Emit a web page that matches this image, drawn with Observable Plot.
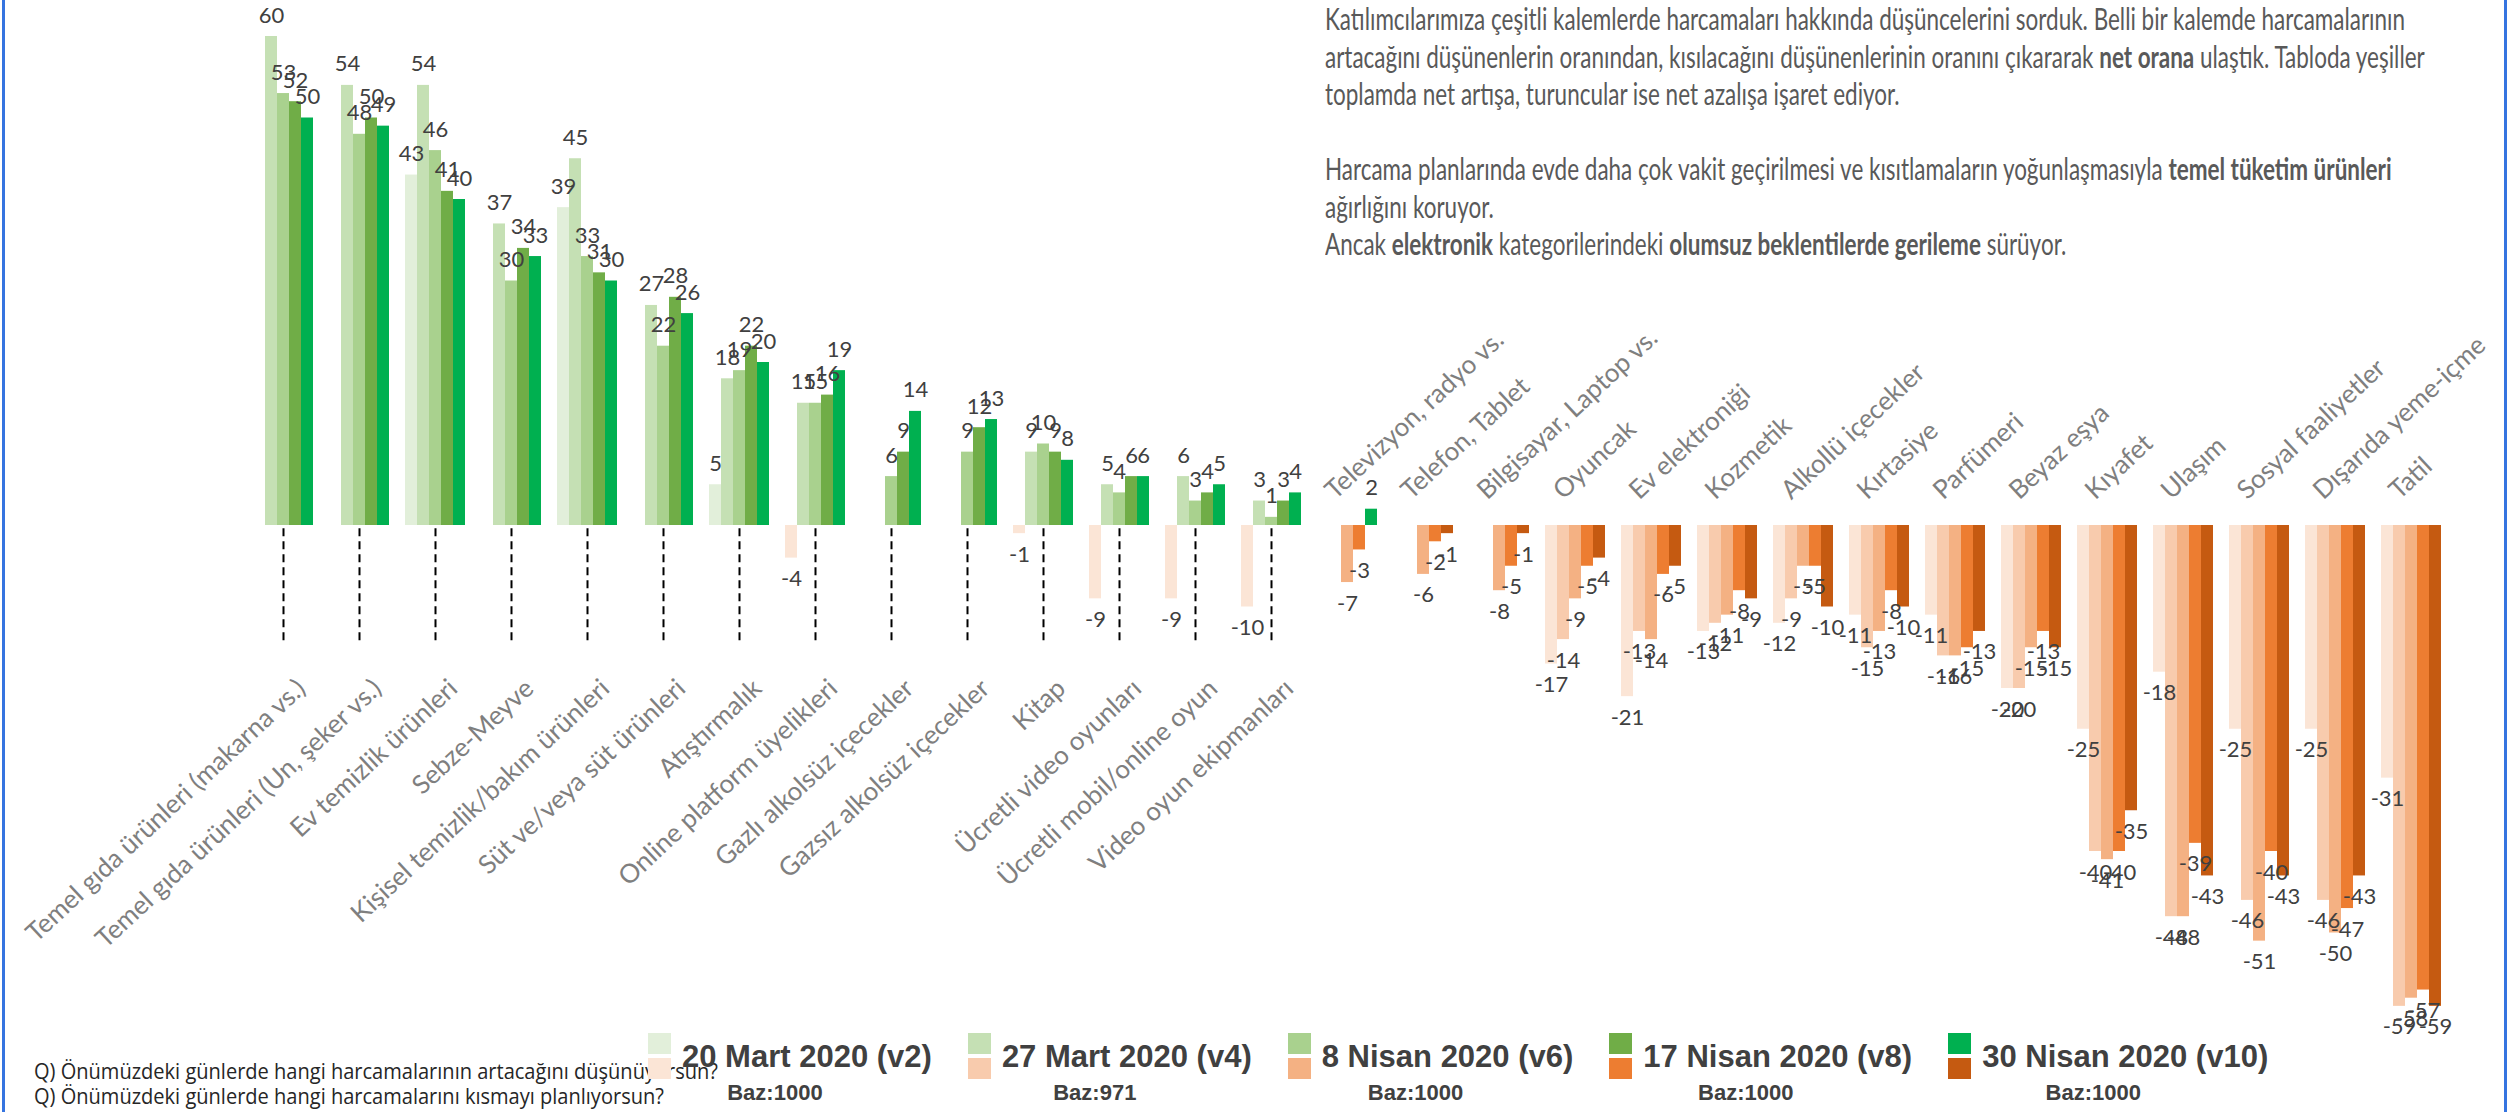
<!DOCTYPE html>
<html>
<head>
<meta charset="utf-8">
<script src="https://cdn.jsdelivr.net/npm/d3@7"></script>
<script src="https://cdn.jsdelivr.net/npm/@observablehq/plot@0.6"></script>
<style>
html, body { margin: 0; padding: 0; background: #fff; }
#page { position: relative; width: 2509px; height: 1112px; overflow: hidden; background: #fff; }
#chart { position: absolute; left: 0; top: 0; }
#title { position: absolute; left: 1325px; top: 0; font-family: Lato, sans-serif; color: #595959; line-height: 37.5px; white-space: nowrap; font-size: 30px; transform-origin: 0 0; }
#title b { font-weight: 700; }
#title .gap { height: 37.5px; }
#questions { position: absolute; left: 34px; top: 1058px; font-family: "Open Sans", sans-serif; color: #262626; line-height: 25px; white-space: nowrap; font-size: 22px; transform-origin: 0 0; }
#legend { position: absolute; left: 648px; top: 1033px; display: flex; gap: 36px; }
.item { display: flex; flex-direction: column; align-items: center; }
.row { display: flex; align-items: center; gap: 11px; }
.sw { display: flex; flex-direction: column; gap: 4px; }
.sw span { display: block; width: 23px; height: 21px; }
.lab { font-family: "Liberation Sans", Arial, sans-serif; font-weight: 700; font-size: 31px; color: #404040; line-height: 1; }
.baz { font-family: "Liberation Sans", Arial, sans-serif; font-weight: 700; font-size: 22px; color: #404040; line-height: 1.15; margin-top: 1px; transform: translateX(-15px); }
.edge { position: absolute; top: 0; width: 3px; height: 1112px; background: #3574E0; }
</style>
</head>
<body>
<div id="page">
  <div id="chart"></div>
  <div id="questions"></div>
  <div id="legend"></div>
  <div id="title"></div>
  <div class="edge" style="left:2px"></div>
  <div class="edge" style="left:2504px"></div>
</div>
<script>
// ---------- data ----------
const leftCategories = [
  "Temel gıda ürünleri (makarna vs.)",
  "Temel gıda ürünleri (Un, şeker vs.)",
  "Ev temizlik ürünleri",
  "Sebze-Meyve",
  "Kişisel temizlik/bakım ürünleri",
  "Süt ve/veya süt ürünleri",
  "Atıştırmalık",
  "Online platform üyelikleri",
  "Gazlı alkolsüz içecekler",
  "Gazsız alkolsüz içecekler",
  "Kitap",
  "Ücretli video oyunları",
  "Ücretli mobil/online oyun",
  "Video oyun ekipmanları"
];
const rightCategories = [
  "Televizyon, radyo vs.",
  "Telefon, Tablet",
  "Bilgisayar, Laptop vs.",
  "Oyuncak",
  "Ev elektroniği",
  "Kozmetik",
  "Alkollü içecekler",
  "Kırtasiye",
  "Parfümeri",
  "Beyaz eşya",
  "Kıyafet",
  "Ulaşım",
  "Sosyal faaliyetler",
  "Dışarıda yeme-içme",
  "Tatil"
];
const categories = leftCategories.concat(rightCategories);

const series = ["v2", "v4", "v6", "v8", "v10"];
const v2  = [null, null, 43, null, 39, null, 5, -4, null, null, -1, -9, -9, -10,
             null, null, null, -17, -21, -13, -12, -11, -11, -20, -25, -18, -25, -25, -31];
const v4  = [60, 54, 54, 37, 45, 27, 18, 15, null, null, 9, 5, 6, 3,
             null, null, null, -14, -13, -12, -9, -15, -16, -20, -40, -48, -46, -46, -59];
const v6  = [53, 48, 46, 30, 33, 22, 19, 15, 6, 9, 10, 4, 3, 1,
             -7, -6, -8, -9, -14, -11, -5, -13, -16, -15, -41, -48, -51, -50, -58];
const v8  = [52, 50, 41, 34, 31, 28, 22, 16, 9, 12, 9, 6, 4, 3,
             -3, -2, -5, -5, -6, -8, -5, -8, -15, -13, -40, -39, -40, -47, -57];
const v10 = [50, 49, 40, 33, 30, 26, 20, 19, 14, 13, 8, 6, 5, 4,
             2, -1, -1, -4, -5, -9, -10, -10, -13, -15, -35, -43, -43, -43, -59];
const seriesValues = [v2, v4, v6, v8, v10];

const greens  = ["#E2EFDA", "#C5E0B4", "#A9D18E", "#70AD47", "#00B050"];
const oranges = ["#FBE5D6", "#F8CBAD", "#F4B183", "#ED7D31", "#C55A11"];

const legendLabels = ["20 Mart 2020 (v2)", "27 Mart 2020 (v4)", "8 Nisan 2020 (v6)", "17 Nisan 2020 (v8)", "30 Nisan 2020 (v10)"];
const bazLabels = ["Baz:1000", "Baz:971", "Baz:1000", "Baz:1000", "Baz:1000"];

const questions = [
  "Q) Önümüzdeki günlerde hangi harcamalarının artacağını düşünüyorsun?",
  "Q) Önümüzdeki günlerde hangi harcamalarını kısmayı planlıyorsun?"
];

const titleLines = [
  [["Katılımcılarımıza çeşitli kalemlerde harcamaları hakkında düşüncelerini sorduk. Belli bir kalemde harcamalarının", false]],
  [["artacağını düşünenlerin oranından, kısılacağını düşünenlerinin oranını çıkararak ", false], ["net orana", true], [" ulaştık. Tabloda yeşiller", false]],
  [["toplamda net artışa, turuncular ise net azalışa işaret ediyor.", false]],
  [],
  [["Harcama planlarında evde daha çok vakit geçirilmesi ve kısıtlamaların yoğunlaşmasıyla ", false], ["temel tüketim ürünleri", true]],
  [["ağırlığını koruyor.", false]],
  [["Ancak ", false], ["elektronik", true], [" kategorilerindeki ", false], ["olumsuz beklentilerde gerileme", true], [" sürüyor.", false]]
];

// ---------- table ----------
const rows = [];
categories.forEach((c, i) => {
  series.forEach((s, j) => {
    const v = seriesValues[j][i];
    if (v != null) rows.push({cat: c, series: s, value: v, key: s + (v >= 0 ? "+" : "-")});
  });
});
const colorDomain = series.map(s => s + "+").concat(series.map(s => s + "-"));
const colorRange = greens.concat(oranges);

const labelFont = "Lato, sans-serif";

const chart = Plot.plot({
  width: 2509,
  height: 1040,
  marginLeft: 248,
  marginRight: 63.5,
  marginTop: 27.85,
  marginBottom: 17.85,
  style: {fontFamily: labelFont, background: "transparent", overflow: "visible"},
  fx: {domain: categories, paddingInner: 0.167, paddingOuter: 0, axis: null, label: null},
  x: {domain: series, padding: 0, axis: null},
  y: {domain: [-61, 61], axis: null},
  color: {domain: colorDomain, range: colorRange},
  marks: [
    Plot.barY(rows, {fx: "cat", x: "series", y: "value", fill: "key"}),
    Plot.text(rows.filter(d => d.value >= 0), {
      fx: "cat", x: "series", y: "value", text: d => String(d.value),
      dy: -21, fontSize: 22, fill: "#404040"
    }),
    Plot.text(rows.filter(d => d.value < 0), {
      fx: "cat", x: "series", y: "value", text: d => String(d.value),
      dy: 21, fontSize: 22, fill: "#404040"
    }),
    Plot.ruleX(leftCategories, {
      fx: d => d, x: () => "v6", y1: -0.4, y2: -14.7,
      stroke: "#000", strokeWidth: 2, strokeDasharray: "8,5"
    }),
    Plot.text(leftCategories, {
      fx: d => d, x: () => "v6", y: 0, text: d => d,
      rotate: -43, textAnchor: "end", dx: 18, dy: 159,
      fontSize: 26, fill: "#7F7F7F"
    }),
    Plot.text(rightCategories, {
      fx: d => d, x: () => "v2", y: 0, text: d => d,
      rotate: -43, textAnchor: "start", dx: 6, dy: -31,
      fontSize: 26, fill: "#7F7F7F"
    })
  ]
});
document.getElementById("chart").appendChild(chart);

// ---------- title ----------
const titleEl = document.getElementById("title");
titleLines.forEach(line => {
  const div = document.createElement("div");
  if (line.length === 0) { div.className = "gap"; }
  else {
    const span = document.createElement("span");
    line.forEach(([t, bold]) => {
      const s = document.createElement(bold ? "b" : "span");
      s.textContent = t;
      span.appendChild(s);
    });
    div.appendChild(span);
  }
  titleEl.appendChild(div);
});
function squeeze(container, target) {
  const first = container.querySelector("div > span");
  const w = first.getBoundingClientRect().width;
  container.style.transform = "scaleX(" + (target / w) + ")";
}
squeeze(titleEl, 1080);

// ---------- questions ----------
const qEl = document.getElementById("questions");
questions.forEach(q => {
  const div = document.createElement("div");
  const span = document.createElement("span");
  span.textContent = q;
  div.appendChild(span);
  qEl.appendChild(div);
});
squeeze(qEl, 684);

// ---------- legend ----------
const legEl = document.getElementById("legend");
legendLabels.forEach((lab, i) => {
  const item = document.createElement("div");
  item.className = "item";
  const row = document.createElement("div");
  row.className = "row";
  const sw = document.createElement("div");
  sw.className = "sw";
  const g = document.createElement("span"); g.style.background = greens[i];
  const o = document.createElement("span"); o.style.background = oranges[i];
  sw.appendChild(g); sw.appendChild(o);
  const t = document.createElement("div");
  t.className = "lab"; t.textContent = lab;
  row.appendChild(sw); row.appendChild(t);
  const baz = document.createElement("div");
  baz.className = "baz"; baz.textContent = bazLabels[i];
  item.appendChild(row); item.appendChild(baz);
  legEl.appendChild(item);
});
</script>
</body>
</html>
